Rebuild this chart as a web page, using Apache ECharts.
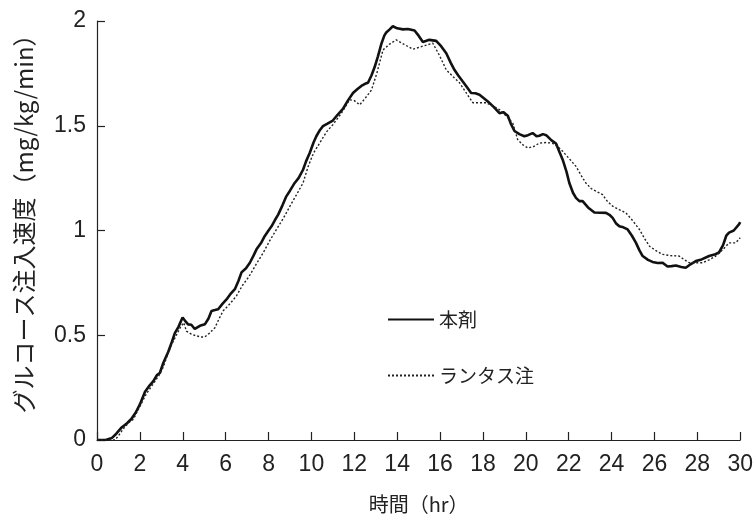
<!DOCTYPE html>
<html>
<head>
<meta charset="utf-8">
<script src="https://cdn.jsdelivr.net/npm/echarts@6/dist/echarts.min.js"></script>
<style>
html,body{margin:0;padding:0;background:#fff;}
#c{width:756px;height:519px;}
</style>
</head>
<body>
<div id="c"></div>
<script>
var seriesNames = ['本剤', 'ランタス注'];
var xTicks = [0,2,4,6,8,10,12,14,16,18,20,22,24,26,28,30];
var yTicks = [0,0.5,1,1.5,2];
var yTitle = 'グルコース注入速度（mg/kg/min）';
var xTitle = '時間（hr）';

var hoursA = [0,0.4,0.7,0.9,1.15,1.4,1.6,1.8,2.0,2.24,2.45,2.62,2.8,2.93,3.1,3.32,3.5,3.63,3.8,3.99,4.1,4.25,4.4,4.56,4.8,5.03,5.2,5.34,5.5,5.65,5.85,6.04,6.25,6.43,6.6,6.74,6.95,7.13,7.3,7.44,7.65,7.82,8.0,8.14,8.3,8.45,8.65,8.83,9.0,9.22,9.4,9.61,9.75,9.92,10.1,10.23,10.4,10.54,10.75,11.0,11.2,11.47,11.7,11.94,12.15,12.33,12.5,12.64,12.8,12.95,13.1,13.26,13.4,13.49,13.65,13.8,14.0,14.27,14.5,14.81,15.0,15.2,15.5,15.82,16.05,16.29,16.5,16.67,16.85,17.06,17.25,17.45,17.65,17.84,18.0,18.23,18.5,18.77,18.95,19.16,19.3,19.47,19.7,19.93,20.1,20.32,20.5,20.63,20.8,20.95,21.2,21.41,21.55,21.72,21.9,22.03,22.2,22.34,22.5,22.65,22.9,23.2,23.5,23.74,23.9,24.05,24.2,24.36,24.55,24.75,24.95,25.14,25.3,25.45,25.7,25.91,26.15,26.38,26.61,26.8,27.0,27.25,27.46,27.7,27.93,28.2,28.55,28.8,29.01,29.2,29.35,29.48,29.7,29.95,30.0];
var valuesA = [0,0.0,0.01,0.03,0.06,0.08,0.10,0.13,0.17,0.23,0.26,0.28,0.31,0.32,0.37,0.42,0.47,0.51,0.54,0.585,0.57,0.552,0.55,0.53,0.545,0.552,0.58,0.616,0.62,0.624,0.65,0.671,0.70,0.72,0.76,0.80,0.82,0.846,0.88,0.91,0.94,0.973,1.0,1.02,1.05,1.076,1.12,1.163,1.19,1.227,1.25,1.29,1.33,1.37,1.42,1.45,1.48,1.498,1.51,1.525,1.55,1.58,1.62,1.656,1.675,1.69,1.70,1.705,1.74,1.78,1.83,1.89,1.93,1.945,1.96,1.975,1.965,1.96,1.962,1.955,1.93,1.90,1.91,1.905,1.88,1.846,1.80,1.767,1.74,1.711,1.685,1.656,1.655,1.648,1.635,1.616,1.59,1.56,1.565,1.548,1.51,1.475,1.46,1.45,1.455,1.465,1.45,1.452,1.46,1.455,1.43,1.415,1.38,1.338,1.28,1.227,1.18,1.156,1.14,1.14,1.11,1.086,1.085,1.084,1.075,1.06,1.035,1.02,1.015,1.005,0.975,0.941,0.905,0.878,0.86,0.85,0.845,0.846,0.828,0.83,0.833,0.826,0.822,0.84,0.854,0.862,0.878,0.885,0.895,0.93,0.975,0.99,1.0,1.03,1.04];

var hoursB = [0,0.5,0.84,1.0,1.2,1.45,1.7,1.9,2.1,2.3,2.5,2.7,2.9,3.1,3.3,3.5,3.7,3.9,4.05,4.17,4.4,4.64,4.85,5.03,5.25,5.5,5.7,5.88,6.2,6.5,6.8,7.1,7.4,7.75,8.05,8.37,8.7,9.0,9.3,9.61,9.85,10.1,10.39,10.7,11.0,11.4,11.78,12.0,12.25,12.5,12.8,13.05,13.34,13.65,13.96,14.3,14.73,15.2,15.66,15.95,16.29,16.6,16.91,17.2,17.53,17.85,18.15,18.45,18.77,19.1,19.39,19.62,19.85,20.09,20.35,20.63,20.95,21.24,21.5,21.72,22.05,22.34,22.6,22.8,23.05,23.27,23.58,23.8,24.05,24.35,24.67,25.0,25.3,25.55,25.77,26.05,26.38,26.75,27.15,27.4,27.62,27.95,28.24,28.55,28.86,29.2,29.48,29.79,30.0];
var valuesB = [0,0,0.0,0.02,0.05,0.08,0.10,0.14,0.18,0.22,0.25,0.28,0.31,0.35,0.41,0.46,0.50,0.54,0.56,0.52,0.505,0.497,0.492,0.492,0.51,0.536,0.58,0.616,0.65,0.687,0.74,0.782,0.835,0.893,0.95,1.005,1.06,1.116,1.17,1.227,1.306,1.37,1.418,1.47,1.505,1.56,1.624,1.62,1.60,1.63,1.67,1.75,1.862,1.89,1.91,1.89,1.865,1.88,1.894,1.84,1.767,1.735,1.705,1.66,1.61,1.61,1.61,1.595,1.577,1.545,1.513,1.434,1.41,1.394,1.40,1.417,1.42,1.417,1.40,1.378,1.34,1.306,1.26,1.227,1.20,1.188,1.171,1.14,1.116,1.10,1.084,1.045,1.005,0.96,0.925,0.905,0.886,0.88,0.878,0.86,0.846,0.846,0.846,0.86,0.878,0.91,0.941,0.941,0.965];

function pairs(xs, ys){ return xs.map(function(x,i){ return [x, ys[i]]; }); }

var FONT = 'Liberation Sans, Noto Sans CJK JP, sans-serif';
var TXT = '#222';
var chart = echarts.init(document.getElementById('c'), null, {renderer:'canvas'});
chart.setOption({
  animation: false,
  backgroundColor: '#fff',
  grid: {left: 97, right: 15, top: 21, bottom: 78, containLabel: false},
  legend: {
    orient: 'vertical', left: 382, top: 305,
    itemWidth: 46, itemHeight: 20, itemGap: 37,
    itemStyle: {opacity: 0},
    textStyle: {fontSize: 19, color: TXT, fontFamily: 'Noto Sans CJK JP'},
    data: seriesNames
  },
  graphic: [{
    type: 'text', x: 24, y: 218, rotation: Math.PI / 2,
    style: {text: yTitle, fontSize: 24, fill: TXT, fontFamily: 'Noto Sans CJK JP',
      align: 'center', verticalAlign: 'middle'}
  }],
  xAxis: {
    type: 'value', min: 0, max: 30, interval: 2,
    name: xTitle, nameLocation: 'middle', nameGap: 54,
    nameTextStyle: {fontSize: 20, color: TXT, fontFamily: 'Noto Sans CJK JP'},
    axisLine: {show: true, lineStyle: {color: '#222', width: 1.2}},
    axisTick: {show: true, inside: true, length: 8, lineStyle: {color: '#222', width: 1.2}},
    axisLabel: {fontSize: 23, color: TXT, fontFamily: FONT, margin: 13},
    splitLine: {show: false}
  },
  yAxis: {
    type: 'value', min: 0, max: 2, interval: 0.5,
    axisLine: {show: true, lineStyle: {color: '#222', width: 1.2}},
    axisTick: {show: true, inside: true, length: 8, lineStyle: {color: '#222', width: 1.2}},
    axisLabel: {fontSize: 23, color: TXT, fontFamily: FONT, margin: 11},
    splitLine: {show: false}
  },
  series: [
    {
      name: seriesNames[0], type: 'line', data: pairs(hoursA, valuesA),
      symbol: 'none', smooth: false,
      lineStyle: {color: '#111', width: 2.6},
      itemStyle: {color: '#111'}
    },
    {
      name: seriesNames[1], type: 'line', data: pairs(hoursB, valuesB),
      symbol: 'none', smooth: false,
      lineStyle: {color: '#222', width: 1.4, type: [2, 2]},
      itemStyle: {color: '#222'}
    }
  ]
});
</script>
</body>
</html>
